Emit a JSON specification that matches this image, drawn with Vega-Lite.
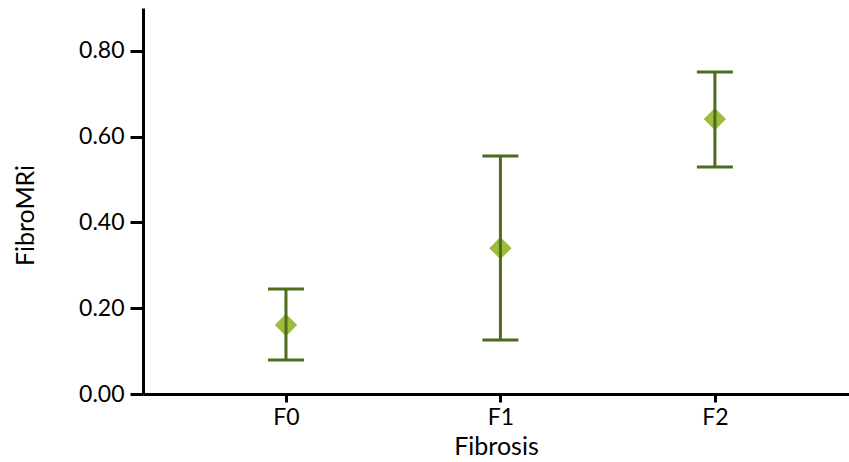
{
  "$schema": "https://vega.github.io/schema/vega-lite/v6.json",
  "autosize": "none",
  "width": 706,
  "height": 386,
  "padding": {"left": 143, "top": 8, "right": 0, "bottom": 68},
  "config": {
    "view": {"stroke": null},
    "font": "Lato",
    "axis": {
      "domainColor": "#000000",
      "domainWidth": 3,
      "tickColor": "#000000",
      "tickWidth": 3,
      "labelColor": "#000000",
      "titleColor": "#000000",
      "labelFontSize": 23,
      "titleFontSize": 25,
      "titleFontWeight": "normal",
      "grid": false
    }
  },
  "data": {
    "values": [
      {"group": "F0", "mean": 0.161, "low": 0.079, "high": 0.245},
      {"group": "F1", "mean": 0.340, "low": 0.126, "high": 0.555},
      {"group": "F2", "mean": 0.641, "low": 0.529, "high": 0.751}
    ]
  },
  "encoding": {
    "x": {
      "field": "group",
      "type": "nominal",
      "scale": {"type": "point", "padding": 0.646, "align": 0.516},
      "axis": {"labelAngle": 0, "tickSize": 8, "labelPadding": 4, "title": "Fibrosis", "titlePadding": 5}
    }
  },
  "layer": [
    {
      "mark": {"type": "point", "shape": "diamond", "filled": true, "opacity": 1, "color": "#9dbc3c", "size": 500},
      "encoding": {
        "y": {
          "field": "mean",
          "type": "quantitative",
          "scale": {"domain": [0, 0.9], "nice": false, "zero": true},
          "axis": {"values": [0, 0.2, 0.4, 0.6, 0.8], "format": ".2f", "tickSize": 13, "labelPadding": 6, "title": "FibroMRi", "titlePadding": 40, "titleY": 207}
        }
      }
    },
    {
      "mark": {"type": "rule", "color": "#4e6b1e", "strokeWidth": 3, "opacity": 1},
      "encoding": {
        "y": {"field": "low", "type": "quantitative"},
        "y2": {"field": "high"}
      }
    },
    {
      "mark": {"type": "tick", "color": "#4e6b1e", "thickness": 3, "size": 36, "orient": "horizontal", "opacity": 1},
      "encoding": {"y": {"field": "low", "type": "quantitative"}}
    },
    {
      "mark": {"type": "tick", "color": "#4e6b1e", "thickness": 3, "size": 36, "orient": "horizontal", "opacity": 1},
      "encoding": {"y": {"field": "high", "type": "quantitative"}}
    }
  ]
}
